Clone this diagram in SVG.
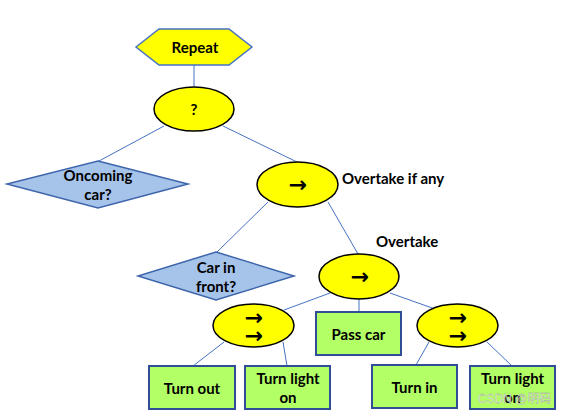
<svg xmlns="http://www.w3.org/2000/svg" width="561" height="415" viewBox="0 0 561 415">
<style>
.t{font-family:Lato,"Open Sans","Liberation Sans",sans-serif;font-weight:bold;font-size:15px;fill:#000;text-anchor:middle;dominant-baseline:central}
.lab{font-family:Lato,"Open Sans","Liberation Sans",sans-serif;font-weight:bold;font-size:15px;fill:#000}
.arr{font-family:"DejaVu Sans",sans-serif;font-weight:bold;font-size:22px;fill:#000;text-anchor:middle;dominant-baseline:central}
.ell{fill:#FFFF00;stroke:#000;stroke-width:1.5}
.dia{fill:#A6C3EA;stroke:#3E65AB;stroke-width:1.5}
.box{fill:#B3FF66;stroke:#2F4E96;stroke-width:2}
.con{stroke:#4472C4;stroke-width:1;fill:none}
</style>
<rect width="561" height="415" fill="#fff"/>
<g id="connectors" class="con">
<line x1="194" y1="65" x2="194" y2="88"/>
<line x1="164" y1="126" x2="99" y2="161"/>
<line x1="223" y1="126" x2="297" y2="162"/>
<line x1="268" y1="202" x2="217" y2="252"/>
<line x1="328" y1="202" x2="358" y2="254"/>
<line x1="330" y1="293" x2="284" y2="310"/>
<line x1="359" y1="299" x2="359" y2="312"/>
<line x1="390" y1="293" x2="435" y2="309"/>
<line x1="224" y1="342" x2="193" y2="366"/>
<line x1="283" y1="342" x2="287" y2="366"/>
<line x1="429" y1="342" x2="416" y2="365"/>
<line x1="487" y1="342" x2="512" y2="366"/>
</g>
<g id="repeat">
<polygon points="136,47 159,29 229,29 252,47 229,65 159,65" fill="#FFFF00" stroke="#4472C4" stroke-width="1.5"/>
<text class="t" x="195" y="47">Repeat</text>
</g>
<g id="selector">
<ellipse class="ell" cx="194" cy="109" rx="40" ry="22"/>
<text class="t" x="194" y="109">?</text>
</g>
<g id="oncoming">
<polygon class="dia" points="98,161 188,184 98,208 7,184"/>
<text class="t" x="98" y="175">Oncoming</text>
<text class="t" x="98" y="194">car?</text>
</g>
<g id="overtake-if-any">
<ellipse class="ell" cx="297.5" cy="184.5" rx="40.5" ry="22.5"/>
<text class="arr" x="298" y="184">→</text>
<text class="lab" x="342" y="184">Overtake if any</text>
</g>
<g id="car-in-front">
<polygon class="dia" points="216,252 294,276 216,300 138,276"/>
<text class="t" x="216" y="267">Car in</text>
<text class="t" x="216" y="286">front?</text>
</g>
<g id="overtake">
<ellipse class="ell" cx="359" cy="276.5" rx="40" ry="22.5"/>
<text class="arr" x="360" y="276">→</text>
<text class="lab" x="376" y="247">Overtake</text>
</g>
<g id="seq-left">
<ellipse class="ell" cx="253.5" cy="325.5" rx="40.5" ry="21.5"/>
<text class="arr" x="254" y="317">→</text>
<text class="arr" x="254" y="335">→</text>
</g>
<g id="pass-car">
<rect class="box" x="316" y="312" width="85" height="43"/>
<text class="t" x="358.5" y="334">Pass car</text>
</g>
<g id="seq-right">
<ellipse class="ell" cx="457.5" cy="325.5" rx="40.5" ry="21.5"/>
<text class="arr" x="458" y="317">→</text>
<text class="arr" x="458" y="335">→</text>
</g>
<g id="turn-out">
<rect class="box" x="149" y="366" width="86" height="43"/>
<text class="t" x="192" y="388">Turn out</text>
</g>
<g id="turn-light-on-1">
<rect class="box" x="245" y="366" width="85" height="43"/>
<text class="t" x="288" y="378">Turn light</text>
<text class="t" x="288" y="397">on</text>
</g>
<g id="turn-in">
<rect class="box" x="372" y="365" width="85" height="43"/>
<text class="t" x="414.5" y="387">Turn in</text>
</g>
<g id="turn-light-on-2">
<rect class="box" x="470" y="366" width="85" height="43"/>
<text class="t" x="512.5" y="378">Turn light</text>
<text class="t" x="512.5" y="397">on</text>
</g>
<text x="478" y="403" font-family="Liberation Sans,'Noto Sans CJK SC',sans-serif" font-size="12" fill="#ffffff" fill-opacity="0.75" stroke="#999" stroke-width="0.3">CSDN @明码</text>
</svg>
